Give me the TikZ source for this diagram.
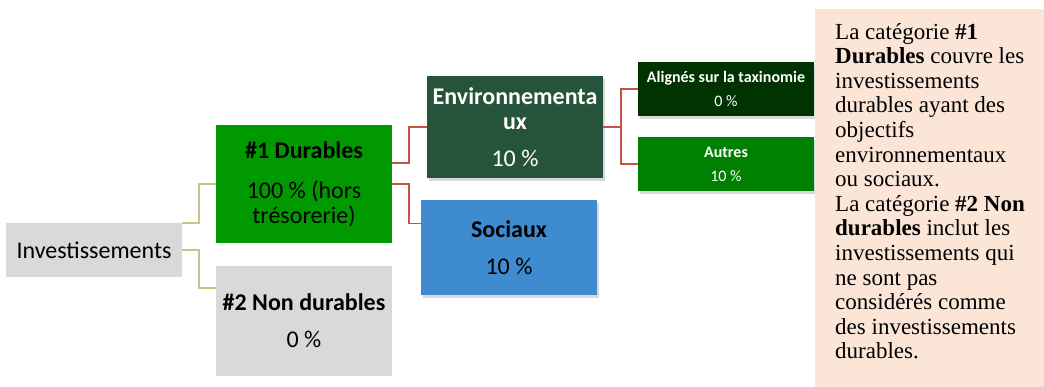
\documentclass[tikz,border=0pt]{standalone}
\usepackage{fontspec}
\setmainfont{Carlito}
\newfontfamily\notefont{Liberation Serif}
\usepackage{xcolor}
\usetikzlibrary{shadows}
\definecolor{greybox}{RGB}{217,217,217}
\definecolor{durgreen}{RGB}{0,153,0}
\definecolor{envgreen}{RGB}{38,84,58}
\definecolor{socblue}{RGB}{62,139,208}
\definecolor{taxgreen}{RGB}{0,51,0}
\definecolor{autgreen}{RGB}{0,128,0}
\definecolor{notebg}{RGB}{251,229,214}
\definecolor{linkred}{RGB}{196,84,64}
\definecolor{linktan}{RGB}{204,194,140}
\tikzstyle{box} = [rectangle, minimum width=176pt, inner sep=0pt, outer sep=0pt, align=center, font=\fontsize{24}{25}\selectfont]
\tikzstyle{smallbox} = [box, minimum height=54pt, text=white, font=\fontsize{16}{24}\selectfont]
\tikzstyle{boxshadow} = [drop shadow={opacity=0.3, shadow xshift=1.5pt, shadow yshift=-3pt}]
\tikzstyle{redlink} = [line width=1.8pt, draw=linkred]
\tikzstyle{tanlink} = [line width=1.5pt, draw=linktan]

\begin{document}
\begin{tikzpicture}[x=1pt, y=-1pt]
    \useasboundingbox (0, 0) rectangle (1044, 387);
    \node [box, fill=greybox, minimum height=54pt] (inv) at (94, 250) {Investissements};
    \node [box, fill=durgreen, minimum height=118pt] (dur) at (304, 184) {\textbf{\#1 Durables}\\[15pt]100 \% (hors\\trésorerie)};
    \node [box, fill=greybox, minimum height=110pt] (non) at (304, 321) {\textbf{\#2 Non durables}\\[12pt]0 \%};
    \node [box, boxshadow, fill=envgreen, text=white, minimum height=102pt] (env) at (515, 127) {\textbf{Environnementa}\\\textbf{ux}\\[12pt]10 \%};
    \node [box, boxshadow, fill=socblue, minimum height=95pt] (soc) at (509, 247.5) {\textbf{Sociaux}\\[12pt]10 \%};
    \node [smallbox, boxshadow, fill=taxgreen] (ali) at (726, 89) {\textbf{Alignés sur la taxinomie}\\0 \%};
    \node [smallbox, boxshadow, fill=autgreen] (aut) at (726, 164) {\textbf{Autres}\\10 \%};

    \draw [tanlink] (inv.north east) -- ++(17, 0) |- (dur.west);
    \draw [tanlink] (inv.east) -- ++(17, 0) |- ([yshift=33pt]non.west);
    \draw [redlink] ([yshift=21pt]dur.east) -- ++(17, 0) |- (env.west);
    \draw [redlink] (dur.east) -- ++(17, 0) |- ([yshift=24pt]soc.west);
    \draw [redlink] (env.east) -- ++(18, 0) |- (ali.west);
    \draw [redlink] (env.east) -- ++(18, 0) |- (aut.west);

    \fill [notebg] (815, 9) rectangle (1044, 387);
    \node [anchor=north west, inner sep=0pt, align=left, font=\notefont\fontsize{23}{24.6}\selectfont] (note) at (835, 23)
        {La catégorie \textbf{\#1}\\
         \textbf{Durables} couvre les\\
         investissements\\
         durables ayant des\\
         objectifs\\
         environnementaux\\
         ou sociaux.\\
         La catégorie \textbf{\#2 Non}\\
         \textbf{durables} inclut les\\
         investissements qui\\
         ne sont pas\\
         considérés comme\\
         des investissements\\
         durables.};
\end{tikzpicture}
\end{document}
